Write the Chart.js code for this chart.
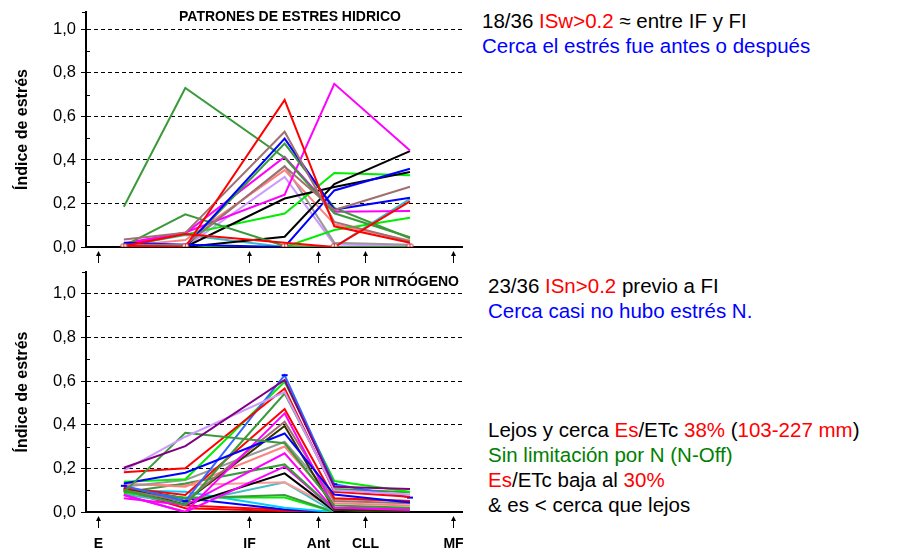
<!DOCTYPE html>
<html>
<head>
<meta charset="utf-8">
<script src="https://cdn.jsdelivr.net/npm/chart.js@4.4.1/dist/chart.umd.min.js"></script>
<style>
  body { margin: 0; background: #fff; font-family: Arial, "Liberation Sans", sans-serif; }
  #page { position: relative; width: 923px; height: 552px; overflow: hidden; }
  .panel { position: absolute; left: 0; }
  .note { position: absolute; font-size: 20.5px; line-height: 25px; white-space: nowrap; color: #000; }
  .r { color: #ff0000; }
  .b { color: #0000ff; }
  .g { color: #008000; }
</style>
</head>
<body>
<div id="page">
  <div class="panel" style="top:0"><canvas id="cWater" width="470" height="265"></canvas></div>
  <div class="panel" style="top:265px"><canvas id="cNitro" width="470" height="287"></canvas></div>

  <div class="note" style="left:482px; top:8px">18/36 <span class="r">ISw&gt;0.2</span> ≈ entre IF y FI<br><span class="b">Cerca el estrés fue antes o después</span></div>
  <div class="note" style="left:488px; top:273px">23/36 <span class="r">ISn&gt;0.2</span> previo a FI<br><span class="b">Cerca casi no hubo estrés N.</span></div>
  <div class="note" style="left:488px; top:417px">Lejos y cerca <span class="r">Es</span>/ETc <span class="r">38%</span> (<span class="r">103-227 mm</span>)<br><span class="g">Sin limitación por N (N-Off)</span><br><span class="r">Es</span>/ETc baja al <span class="r">30%</span><br>&amp; es &lt; cerca que lejos</div>
</div>

<script>
// dias de muestreo (eje x) y estados fenologicos
const sampleDays = [11, 37, 79, 100, 132];
const stageDays = [0, 64, 93, 113, 150];
const stageNames = ["E", "IF", "Ant", "CLL", "MF"];
const yTicks = [0, 0.2, 0.4, 0.6, 0.8, 1.0];
const yMinor = [0.1, 0.3, 0.5, 0.7, 0.9];

// indice de estres hidrico, una fila por sitio
const waterValues = [
  [0.005, 0, 0.676, 0.095, 0.02],
  [0.005, 0.06, 0.02, 0, 0.21],
  [0.035, 0.065, 0.53, 0.115, 0.025],
  [0.01, 0.01, 0.37, 0.17, 0.277],
  [0.01, 0, 0.498, 0.172, 0.226],
  [0.02, 0.01, 0, 0.26, 0.36],
  [0.185, 0.731, 0.41, 0.155, 0.045],
  [0.005, 0.15, 0.005, 0, 0],
  [0, 0, 0.475, 0.18, 0.04],
  [0.017, 0.067, 0.24, 0.75, 0.444],
  [0.01, 0.063, 0.414, 0.162, 0.165],
  [0, 0, 0.223, 0.276, 0.345],
  [0, 0, 0.047, 0.289, 0.441],
  [0.005, 0.058, 0.154, 0.34, 0.33],
  [0, 0, 0, 0.078, 0.134],
  [0, 0, 0, 0, 0],
  [0.005, 0.032, 0.353, 0.105, 0.03],
  [0.005, 0.005, 0.372, 0.02, 0.01],
  [0, 0, 0.322, 0.012, 0.005],
  [0.005, 0.055, 0, 0, 0.221]
];
const waterColors = ["#ff0000", "#ff0000", "#a07070", "#a07070", "#0000ff", "#0000ff",
  "#3a9a3a", "#3a9a3a", "#3a9a3a", "#ff00ff", "#ff00ff", "#000000", "#000000",
  "#00ee00", "#00ee00", "#22cc44", "#ff8080", "#999999", "#cc99ff", "#33bbcc"];

// indice de estres por nitrogeno
const nitroValues = [
  [0.203, 0.302, 0.605, 0.116, 0.105],
  [0.19, 0.345, 0.55, 0.1, 0.08],
  [0.09, 0.363, 0.315, 0.03, 0.02],
  [0.182, 0.2, 0.566, 0.093, 0.07],
  [0.131, 0.18, 0.36, 0.08, 0.043],
  [0.12, 0.05, 0.627, 0.127, 0.066],
  [0.139, 0.15, 0.597, 0.142, 0.093],
  [0.1, 0.032, 0.543, 0.105, 0.09],
  [0.11, 0.078, 0.472, 0.063, 0.05],
  [0.078, 0, 0.452, 0.02, 0.015],
  [0.1, 0.05, 0.414, 0.05, 0.04],
  [0.108, 0.047, 0.394, 0.01, 0],
  [0.116, 0.147, 0.322, 0.06, 0.05],
  [0.131, 0.116, 0.3, 0.04, 0.03],
  [0.063, 0.032, 0.269, 0.01, 0.005],
  [0.09, 0.131, 0.218, 0.01, 0],
  [0.078, 0, 0.208, 0.01, 0.01],
  [0.104, 0.032, 0.177, 0.005, 0],
  [0.124, 0.124, 0.136, 0.02, 0.01],
  [0.08, 0.04, 0.136, 0, 0],
  [0.105, 0.063, 0.078, 0, 0],
  [0.085, 0.067, 0.066, 0, 0],
  [0.1, 0.093, 0.02, 0, 0],
  [0.11, 0.063, 0.012, 0, 0],
  [0.12, 0.03, 0.01, 0, 0],
  [0.1, 0.017, 0.005, 0, 0]
];
const nitroColors = ["#800080", "#cc99ff", "#3a9a3a", "#ff0000", "#0000ff", "#3366ff",
  "#00ee00", "#3a9a3a", "#ff0000", "#ff00ff", "#a07070", "#333300", "#999999",
  "#ff8080", "#ff00ff", "#3a9a3a", "#ff00ff", "#000000", "#ff9999", "#40c0c0",
  "#3a9a3a", "#00ee00", "#00ccff", "#0000ff", "#ff0000", "#ff0000"];

const FONT = "Arial, 'Liberation Sans', sans-serif";

// marcador circulo con cruz para la serie en cero
const mark = document.createElement("canvas");
mark.width = 9; mark.height = 9;
const mctx = mark.getContext("2d");
mctx.fillStyle = "#fff"; mctx.strokeStyle = "#cc3333"; mctx.lineWidth = 1;
mctx.beginPath(); mctx.arc(4.5, 4.5, 3.5, 0, Math.PI * 2); mctx.fill(); mctx.stroke();
mctx.beginPath(); mctx.moveTo(4.5, 1); mctx.lineTo(4.5, 8); mctx.moveTo(1, 4.5); mctx.lineTo(8, 4.5); mctx.stroke();

function makeSets(values, colors) {
  return values.map((row, i) => ({
    data: row.map((v, j) => ({x: sampleDays[j], y: v})),
    borderColor: colors[i],
    borderWidth: 2,
    pointRadius: 0,
    tension: 0,
    fill: false
  }));
}

// decoraciones: titulo, marcas menores, flechas de estados
function decor(title, tx, talign, showNames) {
  return {
    id: "decor",
    afterDraw(chart) {
      const {ctx, chartArea, scales: {x, y}} = chart;
      ctx.save();
      ctx.strokeStyle = "#000"; ctx.fillStyle = "#000"; ctx.lineWidth = 1;
      yMinor.forEach(v => {
        const py = Math.round(y.getPixelForValue(v)) + 0.5;
        ctx.beginPath(); ctx.moveTo(chartArea.left, py); ctx.lineTo(chartArea.left + 4, py); ctx.stroke();
      });
      // tope del eje y
      ctx.beginPath(); ctx.moveTo(chartArea.left - 4, chartArea.top + 0.5); ctx.lineTo(chartArea.left, chartArea.top + 0.5); ctx.stroke();
      const b = chartArea.bottom;
      stageDays.forEach((d, i) => {
        const px = Math.round(x.getPixelForValue(d)) + 0.5;
        ctx.beginPath(); ctx.moveTo(px, b + 16); ctx.lineTo(px, b + 8); ctx.stroke();
        ctx.beginPath(); ctx.moveTo(px, b + 4); ctx.lineTo(px - 2.5, b + 9); ctx.lineTo(px + 2.5, b + 9); ctx.closePath(); ctx.fill();
        if (showNames) {
          ctx.font = "bold 14px " + FONT;
          ctx.textAlign = "center"; ctx.textBaseline = "middle";
          ctx.fillText(stageNames[i], px, b + 32);
        }
      });
      ctx.font = "bold 14px " + FONT;
      ctx.textAlign = talign; ctx.textBaseline = "middle";
      ctx.fillText(title, tx, 17);
      ctx.restore();
    }
  };
}

function makeChart(id, values, colors, yMax, padTop, xHeight, plugin, extra) {
  const sets = makeSets(values, colors);
  if (extra) extra(sets);
  return new Chart(document.getElementById(id), {
    type: "line",
    data: {datasets: sets},
    options: {
      responsive: false,
      animation: false,
      layout: {padding: {top: padTop, right: 8, left: 0, bottom: 0}},
      plugins: {legend: {display: false}, tooltip: {enabled: false}},
      scales: {
        x: {
          type: "linear", min: -5, max: 154,
          ticks: {display: false},
          grid: {display: false, drawTicks: false},
          border: {display: true, color: "#000", width: 2},
          afterFit(s) { s.height = xHeight; s.paddingLeft = 0; s.paddingRight = 0; }
        },
        y: {
          min: 0, max: yMax,
          afterBuildTicks(s) { s.ticks = yTicks.map(v => ({value: v})); },
          afterFit(s) { s.width = 86; s.paddingTop = 0; s.paddingBottom = 0; },
          ticks: {
            color: "#000", padding: 5,
            font: {family: FONT, size: 16.5},
            callback: v => v.toFixed(1).replace(".", ",")
          },
          grid: {
            color: c => c.tick && c.tick.value === 0 ? "rgba(0,0,0,0)" : "#000",
            lineWidth: 1, tickLength: 5, tickColor: "#000", tickBorderDash: []
          },
          border: {display: true, color: "#000", width: 2, dash: [4, 3]},
          title: {
            display: true, text: "Índice de estrés", color: "#000",
            font: {family: FONT, size: 16, weight: "bold"},
            padding: {top: 13, bottom: 0}
          }
        }
      }
    },
    plugins: [plugin]
  });
}

makeChart("cWater", waterValues, waterColors, 1.08, 12, 18,
  decor("PATRONES DE ESTRES HIDRICO", 290, "center", false),
  sets => sets.unshift({
    data: sampleDays.map(d => ({x: d, y: 0})),
    borderColor: "rgba(0,0,0,0)", borderWidth: 0,
    pointStyle: mark, pointRadius: 4, showLine: false
  }));

makeChart("cNitro", nitroValues, nitroColors, 1.1, 7, 40,
  decor("PATRONES DE ESTRÉS POR NITRÓGENO", 459, "right", true),
  sets => {
    sets[5].pointStyle = "line";
    sets[5].pointRadius = 3;
    sets[5].pointBorderColor = "#0000ff";
    sets[5].pointBorderWidth = 2;
  });
</script>
</body>
</html>
